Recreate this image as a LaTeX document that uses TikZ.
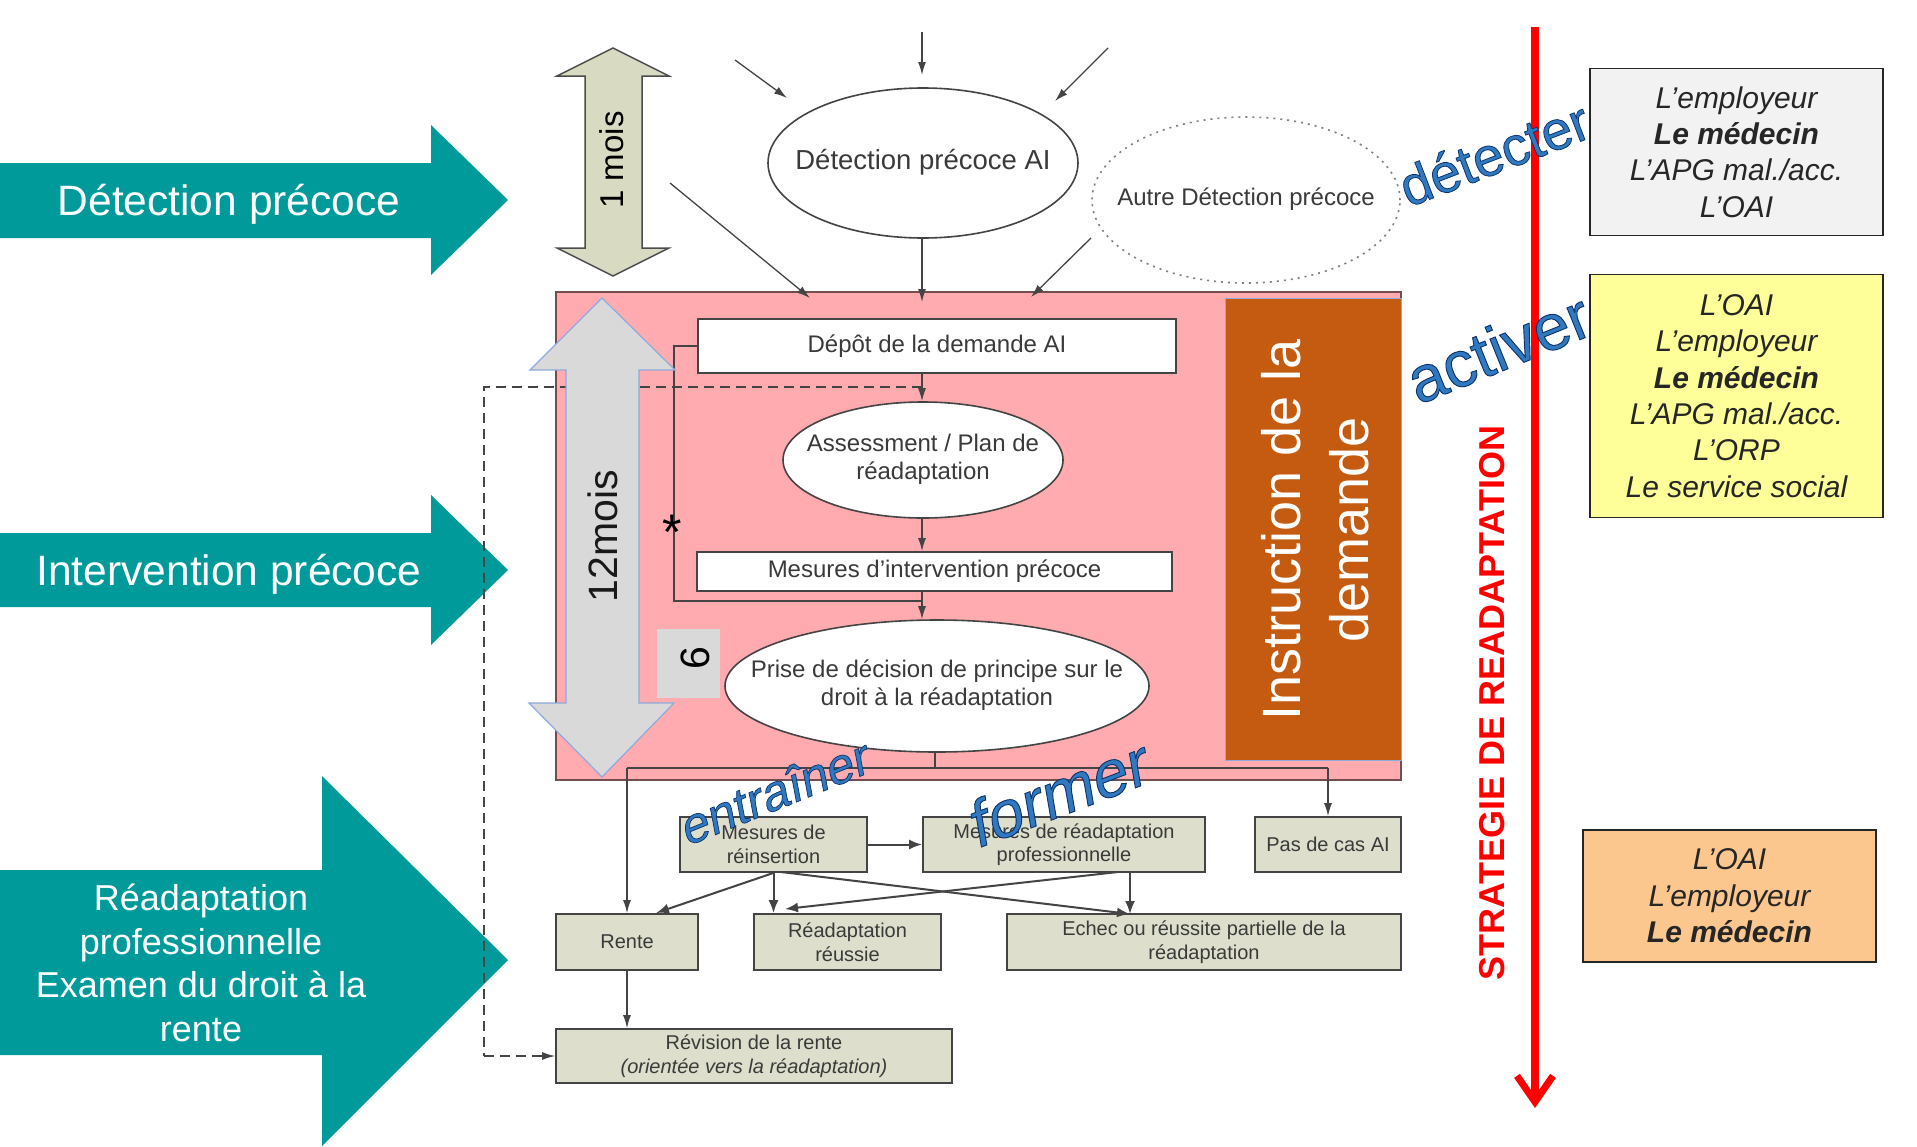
\documentclass[tikz,border=0pt]{standalone}
\usepackage{fontspec}
\usetikzlibrary{shapes.geometric,arrows.meta}
\setmainfont{Liberation Sans}
\newfontfamily\wafont[FakeBold=1.4]{Liberation Sans}
\newfontfamily\wafontit[FakeBold=1.4,FakeSlant=0.2]{Liberation Sans}
\definecolor{tealc}{HTML}{009A9A}
\definecolor{pinkc}{HTML}{FFABB0}
\definecolor{orangec}{HTML}{C55A11}
\definecolor{khaki}{HTML}{DDDFCC}
\definecolor{khakiarrow}{HTML}{D8DAC2}
\definecolor{greyarrow}{HTML}{D9D9D9}
\definecolor{bluearrow}{HTML}{8FAADC}
\definecolor{linec}{HTML}{444444}
\definecolor{textc}{HTML}{3A3A3A}
\definecolor{rgrey}{HTML}{F2F2F2}
\definecolor{ryellow}{HTML}{FFFF99}
\definecolor{rpeach}{HTML}{FCC78F}
\newcommand{\fs}[2]{\fontsize{#1}{#2}\selectfont}
\newcommand{\zt}[1]{\makebox[0pt][c]{\begin{tabular}{@{}c@{}}#1\end{tabular}}}
\newcommand{\wa}[2]{{\special{pdf:bcolor [0.19 0.47 0.75] [0.05 0.2 0.42]}#1 #2\special{pdf:ecolor}}}
\tikzset{
  flowbox/.style={draw=linec,line width=1.8pt,fill=khaki,inner sep=0pt,align=center,text=textc,font=\fs{20}{23.5}},
  whitebox/.style={draw=linec,line width=1.8pt,fill=white,inner sep=0pt,align=center,text=textc,font=\fs{24}{28}},
  whiteell/.style={ellipse,draw=linec,line width=1.6pt,fill=white,inner sep=0pt,text=textc,font=\fs{24}{28}},
  conn/.style={draw=linec,line width=1.3pt,-{Latex[length=13pt,width=8pt]}},
  thickconn/.style={draw=linec,line width=2pt,-{Latex[length=13pt,width=10pt]}},
  plainconn/.style={draw=linec,line width=1.6pt},
  dashconn/.style={draw=linec,line width=1.5pt,dash pattern=on 10pt off 6pt},
  teal/.style={fill=tealc},
  tealtext/.style={text=white,inner sep=0pt,align=center},
  rolebox/.style={draw=black!85,line width=1.5pt,inner sep=0pt,align=center,text=black!85,font=\fs{30}{36.3}\itshape},
  wordart/.style={inner sep=0pt},
}
\begin{document}
\begin{tikzpicture}[x=1pt,y=-1pt]
\useasboundingbox (0,0) rectangle (1917,1146);
\fill[white] (0,0) rectangle (1917,1146);

% teal block arrows
\path[teal] (0,163) -- (431,163) -- (431,125) -- (508,200) -- (431,275) -- (431,238) -- (0,238) -- cycle;
\path[teal] (0,533) -- (431,533) -- (431,495) -- (508,570) -- (431,645) -- (431,607) -- (0,607) -- cycle;
\path[teal] (0,870) -- (322,870) -- (322,776) -- (508,960) -- (322,1146) -- (322,1055) -- (0,1055) -- cycle;
\node[tealtext,font=\fs{42.5}{50}] (tdet) at (229,204) {Détection précoce};
\node[tealtext,font=\fs{42.5}{50}] (tint) at (229,574) {Intervention précoce};
\node[tealtext,font=\fs{36}{43.8}] (trea) at (201,963) {Réadaptation\\professionnelle\\Examen du droit à la\\rente};

% pink panel and orange panel
\node[draw=black!55!pinkc,line width=2.5pt,fill=pinkc,minimum width=845pt,minimum height=488pt,inner sep=0pt] (panel) at (978.5,536) {};
\node[fill=orangec,draw=bluearrow,line width=.8pt,minimum width=176pt,minimum height=462pt,inner sep=0pt] (instr) at (1313,529) {};
\node[text=white,align=center,rotate=90,font=\fs{54}{68},inner sep=0pt] (instrt) at (1315,530) {Instruction de la\\demande};

% flow nodes
\node[whiteell,minimum width=310pt,minimum height=150pt,font=\fs{27.5}{32}] (det) at (923,163) {\zt{Détection précoce AI}};
\node[whiteell,draw=black!50,dash pattern=on 2pt off 5pt,fill=white,minimum width=308pt,minimum height=166pt] (autre) at (1246,200) {\zt{Autre Détection précoce}};
\node[whitebox,minimum width=478pt,minimum height=54pt] (dep) at (937,346) {Dépôt de la demande AI};
\node[whiteell,minimum width=280pt,minimum height=116pt] (asse) at (923,460) {\zt{Assessment / Plan de\\réadaptation}};
\node[whitebox,minimum width=475pt,minimum height=39pt] (mes) at (934.5,571.5) {Mesures d’intervention précoce};
\node[whiteell,minimum width=424pt,minimum height=132pt] (prise) at (937,686) {\zt{Prise de décision de principe sur le\\droit à la réadaptation}};
\node[flowbox,minimum width=187pt,minimum height=55pt] (reins) at (773.5,844.5) {Mesures de\\réinsertion};
\node[flowbox,minimum width=282pt,minimum height=55pt] (reprof) at (1064,844.5) {Mesures de réadaptation\\professionnelle};
\node[flowbox,minimum width=146pt,minimum height=55pt] (pas) at (1328,844.5) {Pas de cas AI};
\node[flowbox,minimum width=142pt,minimum height=56pt] (rente) at (627,942) {Rente};
\node[flowbox,minimum width=187pt,minimum height=56pt] (reussie) at (847.5,942) {Réadaptation\\réussie};
\node[flowbox,minimum width=394pt,minimum height=56pt] (echec) at (1204,942) {Echec ou réussite partielle de la\\réadaptation};
\node[flowbox,minimum width=396pt,minimum height=54pt] (revis) at (754,1056) {Révision de la rente\\{\itshape (orientée vers la réadaptation)}};

% free ends
\coordinate (sp) at (922,0);
\coordinate (a1s) at (735,60);   \coordinate (a1e) at (787,98);
\coordinate (a2s) at (922,32);   \coordinate (a2e) at (922,75);
\coordinate (a3s) at (1108,48);  \coordinate (a3e) at (1055,101);
\coordinate (b1s) at (670,183);  \coordinate (b1e) at (810,298);
\coordinate (b2e) at (922,302);
\coordinate (b3s) at (1091,238); \coordinate (b3e) at (1031,297);
\coordinate (join) at (922,601);
\coordinate (dashtop) at (922,387);
\coordinate (dl1) at (484,387);
\coordinate (dl2) at (484,1056);
\coordinate (jl) at (674,346);
\coordinate (jb) at (674,601);
\coordinate (bar) at (935,768);
\coordinate (barl) at (627,768);
\coordinate (barr) at (1328,768);

% connectors
\draw[conn] (a1s) -- (a1e);
\draw[conn] (a2s) -- (a2e);
\draw[conn] (a3s) -- (a3e);
\draw[conn] (b1s) -- (b1e);
\draw[conn] (sp |- det.south) -- (b2e);
\draw[conn] (b3s) -- (b3e);
\draw[conn] (sp |- dep.south) -- (sp |- asse.north);
\draw[conn] (sp |- asse.south) -- (sp |- mes.north);
\draw[conn] (sp |- mes.south) -- (sp |- prise.north);
\draw[plainconn] (dep.west) -- (jl) -- (jb) -- (join);
\draw[dashconn] (dashtop) -- (dl1) -- (dl2);
\draw[conn,dash pattern=on 10pt off 6pt] (dl2) -- (revis.west);
\draw[plainconn] (prise.south -| bar) -- (bar);
\draw[plainconn,line width=2.2pt] (barl) -- (barr);
\draw[conn] (barl) -- (rente.north);
\draw[conn] (barr) -- (pas.north);
\draw[thickconn] (reins.east) -- (reprof.west);
\draw[thickconn] (reins.south) -- (656,913);
\draw[thickconn] (reins.south) -- (reins.south |- reussie.north);
\draw[thickconn] (781,872) -- (1130,914);
\draw[thickconn] (1118,872) -- (785,909);
\draw[thickconn] (1130,872) -- (1130,914);
\draw[conn] (rente.south) -- (rente.south |- revis.north);

% time arrows
\draw[fill=khakiarrow,draw=black!70,line width=1.5pt] (613,48) -- (669,76) -- (642,76) -- (642,248) -- (669,248) -- (613,276) -- (557,248) -- (585,248) -- (585,76) -- (557,76) -- cycle;
\node[rotate=90,font=\fs{33}{38},inner sep=0pt,text=black] (m1) at (612,160) {1 mois};
\draw[fill=greyarrow,draw=bluearrow,line width=1.2pt] (602,298) -- (675,370) -- (639,370) -- (639,703) -- (674,703) -- (602,777) -- (529,703) -- (566,703) -- (566,370) -- (530,370) -- cycle;
\node[rotate=90,font=\fs{41}{46},inner sep=0pt,text=black!90] (m12) at (603,536) {12mois};
\node[fill=greyarrow,minimum width=63pt,minimum height=69pt,inner sep=0pt] (six) at (688.5,663.5) {};
\node[rotate=90,font=\fs{41}{46},inner sep=0pt,text=black] (sixt) at (695,658) {6};
\node[font=\fs{50}{50},inner sep=0pt,text=black] (star) at (672,532) {*};

% strategy axis
\coordinate (axt) at (1535,27);
\coordinate (axb) at (1535,1108);
\draw[red,line width=8.5pt,-{Straight Barb[length=26pt,width=36pt,line width=7pt]}] (axt) -- (axb);
\node[rotate=90,text=red,font=\fs{36}{40}\bfseries,inner sep=0pt] (strat) at (1492,703) {STRATEGIE DE READAPTATION};

% role boxes
\node[rolebox,fill=rgrey,minimum width=293pt,minimum height=167pt] (r1) at (1736.5,152) {L’employeur\\\textbf{Le médecin}\\L’APG mal./acc.\\L’OAI};
\node[rolebox,fill=ryellow,minimum width=293pt,minimum height=243pt] (r2) at (1736.5,396) {L’OAI\\L’employeur\\\textbf{Le médecin}\\L’APG mal./acc.\\L’ORP\\Le service social};
\node[rolebox,fill=rpeach,minimum width=293pt,minimum height=132pt,font=\fs{30}{36.5}\itshape] (r3) at (1729.5,896) {L’OAI\\L’employeur\\\textbf{Le médecin}};

% word art
\node[wordart,rotate=21,font=\fs{55}{60}] (w1) at (1487,156) {\wa{\wafont}{détecter}};
\node[wordart,rotate=22,font=\fs{65}{70}] (w2) at (1490,351) {\wa{\wafont}{activer}};
\node[wordart,rotate=22,font=\fs{50}{54}] (w3) at (766,795) {\wa{\wafontit}{entraîner}};
\node[wordart,rotate=21,font=\fs{65}{70}] (w4) at (1047,797) {\wa{\wafontit}{former}};
\end{tikzpicture}
\end{document}
